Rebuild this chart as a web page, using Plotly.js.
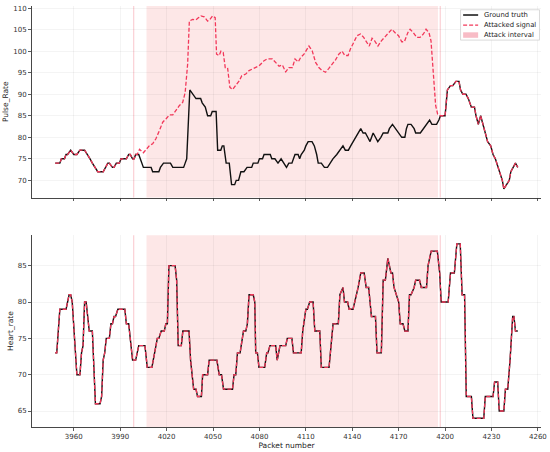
<!DOCTYPE html>
<html>
<head>
<meta charset="utf-8">
<script src="https://cdn.plot.ly/plotly-3.0.1.min.js"></script>
<style>html,body{margin:0;padding:0;background:#fff;}#chart{width:550px;height:452px;}</style>
</head>
<body>
<div id="chart"></div>
<script>
// ---- Pulse_Rate ground truth (packet, value) ----
const pulsePackets = [3948,3951,3952,3954,3955,3956,3958,3960,3962,3964,3967,3969,3970.5,3972,3974,3975.5,3979,3980.5,3982,3983,3985,3986,3987.5,3989.5,3990.5,3994,3995.5,3996.5,3998,3999,4000,4002,4003,4004,4005,4010,4011,4015,4016,4018,4022.5,4024,4031,4032,4033,4035,4037,4039,4042,4043,4045,4046.5,4048.5,4049.5,4052,4053,4055,4056,4057,4058.5,4060.5,4062,4064,4065,4066.5,4068,4070,4072,4075,4076,4079,4080,4082,4083,4087,4088,4090,4092,4094,4096,4097.5,4099,4101,4102,4103,4105,4106,4107,4109,4110,4111.5,4114,4115.5,4117,4118,4120,4122,4124,4125.5,4127.5,4130,4132,4134,4135.5,4137.5,4139,4140.5,4142.5,4144,4145.5,4147,4148.5,4150,4151.5,4152.5,4153.5,4155,4156.5,4158.5,4160,4163,4164,4166,4168,4170,4172,4174,4175,4176,4178,4180,4181,4184,4186,4188,4190,4191.5,4194.5,4196,4197,4200,4201.5,4203.5,4205,4207,4209,4210,4211.5,4213.5,4215,4217,4219,4220,4221.5,4223,4224.5,4226,4227.5,4229.5,4231,4232.5,4233.5,4235,4237,4238,4239.5,4241.5,4242.5,4244,4245.5,4247];
const pulseTruth = [74,74,75,75,76,76,77,76,76,77,77,76,75,74,73,72,72,73,74,74,73,73,74,74,75,75,76,76,75,75,76,76,75,74,73,73,72,72,73,74,74,73,73,74,75,91,90,89,89,88,87,85,85,86,86,77,77,78,78,74,74,69,69,70,70,72,72,73,73,74,74,75,75,76,76,75,75,74,75,74,73,74,74,75,76,76,75,76,77,78,79,79,78,76,74,74,73,73,74,75,76,77,78,77,77,78,79,80,81,82,81,81,80,79,80,81,80,79,80,81,81,82,83,82,81,80,80,82,83,83,82,81,81,82,83,84,83,83,84,85,85,91,92,92,93,93,91,90,90,89,87,87,85,83,85,83,81,79,78,76,75,74,72,70,68,69,70,72,73,74,73];

// ---- Pulse_Rate attacked signal, part that differs from ground truth ----
const attackPackets = [4001,4002.5,4005,4007,4009,4011,4013,4015.4,4017.5,4019.7,4021.8,4024,4026,4028.3,4030.4,4032,4033.6,4034.7,4036.8,4039,4040.7,4042.2,4044.3,4046.5,4048,4049.7,4051.4,4052.3,4054,4055.1,4056.6,4057.9,4059.4,4060.9,4062.6,4064.7,4066.9,4068.6,4071.2,4073.3,4076.5,4079.8,4083,4085,4088.4,4090.5,4092.7,4094.8,4097,4099.1,4101.3,4103,4105.1,4106.6,4108.8,4112,4114.1,4116.3,4118.4,4120.6,4122.7,4124.9,4127,4129.2,4131.3,4133.4,4135.2,4137.3,4138.8,4141,4143.1,4145.3,4147.4,4149.5,4151,4152.8,4154.5,4156.6,4158.8,4161.3,4163.4,4165.6,4167.7,4169.9,4172,4173.7,4175.9,4177.4,4179.5,4181.7,4183.8,4186,4187.7,4189.6,4190.9,4192,4193,4193.9,4195.2,4196.7];
const attackValues = [76,77.2,76.4,77.3,78.1,78.5,79.6,81.6,83.5,84.3,85.2,85.2,86.2,87.4,88.1,90.4,97,107,107.4,107.3,107.8,108.2,108,107,107.4,108.2,107.8,99.3,99,100,99.7,96.2,96.2,91.6,91.1,92,93.1,94.3,94.7,95.5,96,96.6,97.8,98.2,98.2,97.4,96.5,96.8,95.2,96.2,96.2,98.2,97.5,98.5,99.3,101.2,100.1,97.4,96.2,95.5,95.1,96,97,98,99.3,100,99,99,100.5,102,103.6,104,103.2,102,101.2,103,102.4,101.2,102.4,103.4,104.2,105.1,104.3,103.6,102.2,102.2,104.3,105.1,104.3,103.2,103.2,104,105.1,104.3,102.4,97.4,92,87.4,85.4,85];
const attackStart = 4001, attackEnd = 4197;

// ---- Heart_rate (ground truth; attacked signal identical) ----
const heartPackets = [3948,3949,3951,3955,3956,3957,3958,3959,3962,3964,3965,3966,3967,3968,3970,3972,3974,3977,3978,3979,3980,3981,3983,3984,3985,3986,3987,3988.5,3993,3994,3995.5,3996,3998,4000,4002,4006,4007.5,4010.5,4013,4014,4015,4016.5,4018.5,4019.5,4020.5,4021.5,4025.5,4026.5,4027.5,4029.5,4030.5,4034.5,4035.5,4037.5,4039,4040,4042.5,4043.3,4046.5,4047.5,4052.5,4054,4055.5,4056.8,4062.6,4063.6,4064.7,4065.8,4067.5,4069.7,4071.2,4072.2,4073.3,4076,4077,4077.6,4078.7,4079.7,4083.4,4084.7,4085.5,4086.8,4090.5,4091.5,4093.3,4097,4098,4101,4102,4107,4108,4110,4111,4112.5,4114.7,4115.8,4119,4120,4125,4126,4127.6,4131,4132,4134,4135,4137,4138,4140.5,4141.6,4143.8,4145.5,4147.7,4149,4150.6,4152.4,4155,4156,4158.8,4160,4161.4,4163,4164,4165,4166,4167,4168.5,4170,4171,4172.8,4174,4176,4177,4178,4180,4181,4183.5,4184.6,4188,4189,4191,4195,4196.5,4197.5,4202,4203.5,4206,4207.6,4209.8,4211,4212.6,4213.7,4217,4218,4225,4226,4231,4232,4234,4235,4238,4239,4240.5,4242,4243.7,4244.5,4245.5,4247];
const heartTruth = [73,73,79,79,80,81,81,80,70,70,73,74,80,80,76,76,66,66,67,72,73,75,75,77,77,78,78,79,79,77,77,76,72,72,74,74,71,71,74,75,75,76,76,77,77,85,85,83,74,74,76,76,72,68,68,67,67,70,70,72,72,70,70,68,68,70,70,73,73,76,76,77,81,81,80,73,73,71,71,73,73,74,74,72,74,74,75,75,73,73,76,79,79,80,80,76,76,71,71,73,77,77,81,82,80,80,79,79,80,82,84,84,82,82,78,78,73,73,83,83,86,85,84,84,82,81,80,77,77,76,76,81,81,82,83,83,82,82,85,87,87,84,80,80,84,84,88,88,81,81,67,67,64,64,67,67,69,69,65,65,68,68,72,78,78,76,76];
const heartAttacked = heartTruth;

// ---- Attack interval and markers ----
const spanStart = 4007, spanEnd = 4195.4;
const markerLines = [3998.7, 4196.9];

// ---- Ticks ----
const xTicks = [3960,3990,4020,4050,4080,4110,4140,4170,4200,4230,4260];
const pulseTicks = [70,75,80,85,90,95,100,105,110];
const heartTicks = [65,70,75,80,85];

// Build attacked pulse series: ground truth before/after attack, attacked values inside
const atkX = [], atkY = [];
pulsePackets.forEach((p,i)=>{ if (p < attackStart) { atkX.push(p); atkY.push(pulseTruth[i]); } });
attackPackets.forEach((p,i)=>{ atkX.push(p); atkY.push(attackValues[i]); });
pulsePackets.forEach((p,i)=>{ if (p >= attackEnd) { atkX.push(p); atkY.push(pulseTruth[i]); } });

const FONT = "DejaVu Sans, Liberation Sans, sans-serif";
const black = '#111111', red = '#f2385a';
const dashPat = '4px,2px';

const traces = [
  {x: pulsePackets, y: pulseTruth, xaxis:'x', yaxis:'y', mode:'lines', line:{color:black, width:1.4}, name:'Ground truth', showlegend:false},
  {x: atkX, y: atkY, xaxis:'x', yaxis:'y', mode:'lines', line:{color:red, width:1.3, dash:dashPat}, name:'Attacked signal', showlegend:false},
  {x: heartPackets, y: heartTruth, xaxis:'x2', yaxis:'y2', mode:'lines', line:{color:black, width:1.4}, name:'Ground truth', showlegend:false},
  {x: heartPackets, y: heartAttacked, xaxis:'x2', yaxis:'y2', mode:'lines', line:{color:red, width:1.3, dash:dashPat}, name:'Attacked signal', showlegend:false}
];

const shapes = [];
[['x','y'],['x2','y2']].forEach(([xr,yr])=>{
  shapes.push({type:'rect', xref:xr, yref:yr+' domain', x0:spanStart, x1:spanEnd, y0:0, y1:1, fillcolor:'#fde7e7', line:{width:0}, layer:'below'});
  markerLines.forEach(m=>shapes.push({type:'line', xref:xr, yref:yr+' domain', x0:m, x1:m, y0:0, y1:1, line:{color:'#fbd3d8', width:1.3}, layer:'below'}));
});

// Legend (paper coords)
const lx0 = 0.842, lx1 = 0.997, ly0 = 0.919, ly1 = 0.991;
shapes.push({type:'rect', xref:'paper', yref:'paper', x0:lx0, x1:lx1, y0:ly0, y1:ly1, fillcolor:'rgba(255,255,255,0.85)', line:{color:'#d0d0d0', width:0.8}});
shapes.push({type:'line', xref:'paper', yref:'paper', x0:0.847, x1:0.8765, y0:0.9786, y1:0.9786, line:{color:black, width:1.5}});
shapes.push({type:'line', xref:'paper', yref:'paper', x0:0.847, x1:0.8765, y0:0.9548, y1:0.9548, line:{color:red, width:1.3, dash:dashPat}});
shapes.push({type:'rect', xref:'paper', yref:'paper', x0:0.847, x1:0.8765, y0:0.9245, y1:0.9375, fillcolor:'#f8bcc6', line:{width:0}});

const legendFont = {family:FONT, size:6.8, color:'#222'};
const annotations = [
  {text:'Ground truth', x:0.8844, y:0.9786},
  {text:'Attacked signal', x:0.8844, y:0.9548},
  {text:'Attack interval', x:0.8844, y:0.931}
].map(a=>Object.assign(a,{xref:'paper', yref:'paper', xanchor:'left', yanchor:'middle', showarrow:false, font:legendFont}));

const tickFont = {family:FONT, size:7, color:'#333'};
const titleFont = {family:FONT, size:7.5, color:'#222'};
const common = {showline:true, linecolor:'#333', linewidth:0.9, ticks:'outside', ticklen:3, tickwidth:0.8, tickcolor:'#333', showgrid:true, gridcolor:'rgba(0,0,0,0.07)', gridwidth:0.6, zeroline:false, tickfont:tickFont, mirror:false};

const layout = {
  width:550, height:452,
  margin:{l:32, r:8.6, t:6, b:25.3},
  paper_bgcolor:'#fff', plot_bgcolor:'#fff',
  showlegend:false,
  xaxis: Object.assign({}, common, {anchor:'y', range:[3933,4262], tickvals:xTicks, showticklabels:false}),
  yaxis: Object.assign({}, common, {domain:[0.545,1], range:[66,110.5], tickvals:pulseTicks, title:{text:'Pulse_Rate', font:titleFont, standoff:3}}),
  xaxis2: Object.assign({}, common, {anchor:'y2', matches:'x', range:[3933,4262], tickvals:xTicks, title:{text:'Packet number', font:titleFont, standoff:2}}),
  yaxis2: Object.assign({}, common, {domain:[0,0.4557], range:[62.8,89.2], tickvals:heartTicks, title:{text:'Heart_rate', font:titleFont, standoff:3}}),
  shapes: shapes,
  annotations: annotations
};

Plotly.newPlot('chart', traces, layout, {staticPlot:true, displayModeBar:false});
</script>
</body>
</html>
